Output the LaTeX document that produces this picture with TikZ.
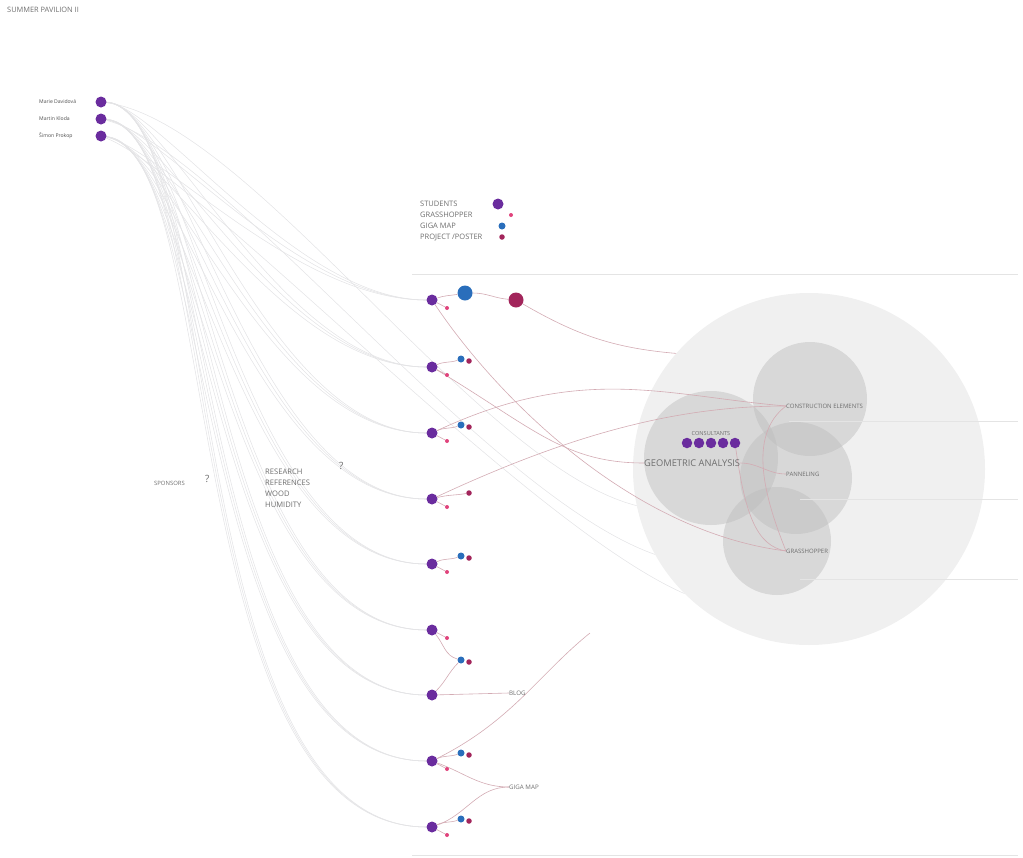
\documentclass[tikz,border=0pt]{standalone}
\usepackage{fontspec}
\setmainfont{Open Sans}
\usepackage{tikz}
\definecolor{purp}{HTML}{6A2C9E}
\definecolor{gigablue}{HTML}{2A6EBB}
\definecolor{posterred}{HTML}{A2255B}
\definecolor{grasspink}{HTML}{E0437C}
\definecolor{rose}{HTML}{D3ABB3}
\definecolor{fangray}{HTML}{E4E4E6}
\definecolor{rulegray}{HTML}{E4E4E4}
\definecolor{txtgray}{HTML}{6E6E6E}
\definecolor{bigfill}{HTML}{F0F0F0}
\pgfdeclarelayer{back}
\pgfdeclarelayer{lines}
\pgfsetlayers{back,lines,main}

\begin{document}
\begin{tikzpicture}[x=1pt,y=-1pt,
  bead/.style={circle,inner sep=0pt,minimum size=#1},
  stud/.style={bead=11pt,fill=purp},
  gm/.style={bead=7pt,fill=gigablue},
  pp/.style={bead=5.5pt,fill=posterred},
  gr/.style={bead=4pt,fill=grasspink},
  fan/.style={draw=fangray,line width=0.55pt},
  link/.style={draw=rose,line width=0.6pt},
  rule/.style={draw=rulegray,line width=0.9pt},
  zone/.style={circle,inner sep=0pt,fill=black!26,fill opacity=0.46},
  lbl/.style={text=txtgray,inner sep=0pt,anchor=west},
]
\useasboundingbox (0,0) rectangle (1023,857);
\node[lbl,font=\fontsize{7.4}{8}\selectfont] (title) at (7,10) {SUMMER PAVILION II};
% students
\node[stud] (st1) at (101,102) {};
\node[stud] (st2) at (101,119) {};
\node[stud] (st3) at (101,136) {};
\node[lbl,text=black!70,font=\fontsize{5.1}{6}\selectfont] (n1) at (39,102) {Marie Davidová};
\node[lbl,text=black!70,font=\fontsize{5.1}{6}\selectfont] (n2) at (39,119) {Martin Kloda};
\node[lbl,text=black!70,font=\fontsize{5.1}{6}\selectfont] (n3) at (39,136) {Šimon Prokop};
% legend
\node[lbl,font=\fontsize{7.5}{8}\selectfont] (l1) at (420,204) {STUDENTS};
\node[lbl,font=\fontsize{7.5}{8}\selectfont] (l2) at (420,215) {GRASSHOPPER};
\node[lbl,font=\fontsize{7.5}{8}\selectfont] (l3) at (420,226) {GIGA MAP};
\node[lbl,font=\fontsize{7.5}{8}\selectfont] (l4) at (420,237) {PROJECT /POSTER};
\node[stud] (k1) at (498,204) {};
\node[gr] (k2) at (511,215) {};
\node[gm] (k3) at (502,226) {};
\node[pp] (k4) at (502,237) {};
% rules
\coordinate (ra) at (412,274); \coordinate (rb) at (1018,274);
\coordinate (rc) at (412,855); \coordinate (rd) at (1018,855);
\draw[rule] (ra) -- (rb);
\draw[rule,line width=0.6pt] (rc) -- (rd);
% project rows
\foreach \r/\y in {1/300,2/367,3/433,4/499,5/564,6/630,7/695,8/761,9/827}
  \node[stud] (p\r) at (432,\y) {};
\foreach \r/\y in {1/300,2/367,3/433,4/499,5/564,6/630,8/761,9/827}
  \node[gr] (g\r) at (447,{\y+8}) {};
\foreach \r/\y in {2/367,3/433,5/564,8/761,9/827}{
  \node[gm] (b\r) at (461,{\y-8}) {};
  \node[pp] (q\r) at (469,{\y-6}) {};
}
\node[pp] (q4) at (469,493) {};
\node[gm] (b6) at (461,660) {};
\node[pp] (q6) at (469,662) {};
\node[gm,bead=15pt] (b1) at (465,293) {};
\node[pp,bead=15pt] (q1) at (516,300) {};
% texts in the middle
\node[lbl,font=\fontsize{5.9}{6}\selectfont] (spon) at (154,483) {SPONSORS};
\node[lbl,font=\fontsize{10}{11}\selectfont] (qa) at (205,479) {?};
\node[lbl,anchor=north west,align=left,font=\fontsize{7.6}{11}\selectfont] (res) at (265,469) {RESEARCH\\REFERENCES\\WOOD\\HUMIDITY};
\node[lbl,font=\fontsize{10}{11}\selectfont] (qb) at (339,466) {?};
\node[lbl,font=\fontsize{6.2}{7}\selectfont] (blog) at (509,693) {BLOG};
\node[lbl,font=\fontsize{6.2}{7}\selectfont] (giga) at (509,787) {GIGA MAP};
% circles
\begin{pgfonlayer}{back}
\node[circle,inner sep=0pt,fill=bigfill,minimum size=352pt] (bigc) at (809,469) {};
\node[zone,minimum size=134pt] (ga) at (711,458) {};
\node[zone,minimum size=114pt] (ce) at (810,399) {};
\node[zone,minimum size=112pt] (pa) at (796,478) {};
\node[zone,minimum size=108pt] (gh) at (777,541) {};
\end{pgfonlayer}
\node[lbl,font=\fontsize{9.3}{10}\selectfont] (galab) at (644,463) {GEOMETRIC ANALYSIS};
\node[font=\fontsize{5.6}{6}\selectfont,text=txtgray,inner sep=0pt] (conlab) at (711,433) {CONSULTANTS};
\foreach \i in {0,...,4}
  \node[stud,bead=10.5pt] (con\i) at ({687+12*\i},443) {};
\node[lbl,font=\fontsize{6}{7}\selectfont] (celab) at (786,406) {CONSTRUCTION ELEMENTS};
\node[lbl,font=\fontsize{6}{7}\selectfont] (palab) at (786,474) {PANNELING};
\node[lbl,font=\fontsize{6}{7}\selectfont] (ghlab) at (786,551) {GRASSHOPPER};
\coordinate (ce0) at (789,421); \coordinate (ce1) at (1018,421);
\coordinate (pa0) at (800,499); \coordinate (pa1) at (1018,499);
\coordinate (gh0) at (800,579); \coordinate (gh1) at (1018,579);
\draw[rule,line width=0.6pt] (ce0) -- (ce1);
\draw[rule,line width=0.6pt] (pa0) -- (pa1);
\draw[rule,line width=0.6pt] (gh0) -- (gh1);
\coordinate (e1) at (bigc.139);
\coordinate (e2) at (bigc.192);
\coordinate (e3) at (bigc.209);
\coordinate (e4) at (bigc.225);
\coordinate (up8) at (590,633);
\begin{pgfonlayer}{lines}
% student fan
\foreach \s in {1,2,3}{
  \foreach \r in {1,...,9}
    \draw[fan] (st\s) .. controls +({50+8*\r},{4*\s}) and +({-120-15*\r},0) .. (p\r);
}
\draw[fan] (st1) .. controls +(150,20) and +(-160,-40) .. (e2);
\draw[fan] (st2) .. controls +(120,30) and +(-170,-60) .. (e3);
\draw[fan] (st3) .. controls +(100,40) and +(-160,-70) .. (e4);
% project links
\foreach \r in {1,...,6,8,9}
  \draw[link] (p\r) -- (g\r);
\foreach \r in {2,3,5,8,9}
  \draw[link] (p\r) to[out=25,in=200] (b\r);
\draw[link] (p4) to[out=15,in=190] (q4);
\draw[link] (p1) to[out=20,in=190] (b1);
\draw[link] (b1) to[out=0,in=175] (q1);
\draw[link] (q1) to[out=-30,in=175] (e1);
\draw[link] (p6) to[out=-50,in=165] (b6);
\draw[link] (p7) to[out=45,in=225] (b6);
\draw[link] (p7) -- (blog.west);
\draw[link] (p8) .. controls +(80,-40) and +(-50,40) .. (up8);
\draw[link] (p8) to[out=-20,in=180] (giga.west);
\draw[link] (p9) to[out=20,in=180] (giga.west);
\draw[link] (p3) .. controls +(150,-70) and +(-120,-10) .. (celab.west);
\draw[link] (p4) .. controls +(150,-70) and +(-100,0) .. (celab.west);
\draw[link] (p1) .. controls +(60,90) and +(-160,-20) .. (ghlab.west);
\draw[link] (p2) .. controls +(100,60) and +(-80,0) .. (galab.west);
% inside the circle
\draw[link] (con4) .. controls +(10,70) and +(-30,-5) .. (ghlab.west);
\draw[link] (celab.west) .. controls +(-40,30) and +(-20,-50) .. (ghlab.west);
\draw[link] (galab.east) to[out=0,in=180] (palab.west);
\end{pgfonlayer}
\end{tikzpicture}
\end{document}
